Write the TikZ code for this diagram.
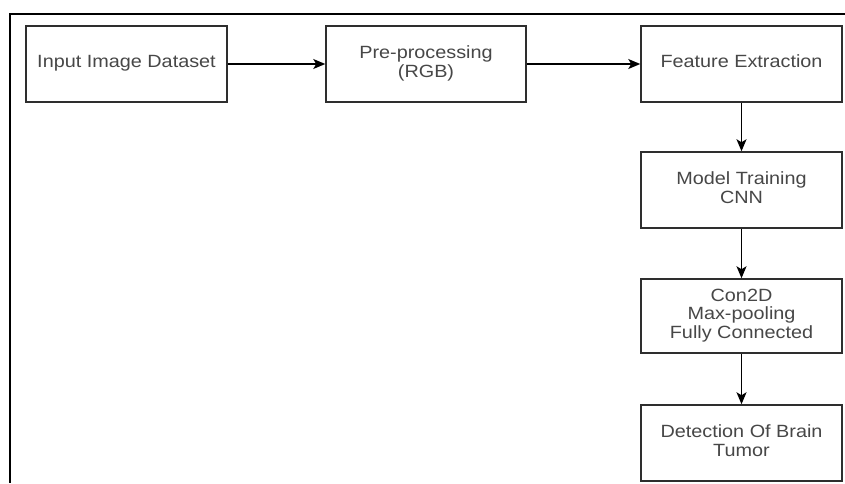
\documentclass[tikz,border=0pt]{standalone}
\usepackage{fontspec}
\usepackage{graphicx}
\setmainfont{Liberation Sans}
\usetikzlibrary{arrows.meta}
\definecolor{txtgrey}{HTML}{474747}
\definecolor{boxline}{HTML}{2E2E2E}
\newcommand{\wtxt}[1]{\scalebox{1.12}[1]{\fontsize{17.7}{18.6}\selectfont\begin{tabular}{@{}c@{}}#1\end{tabular}}}
\begin{document}
\begin{tikzpicture}[x=1pt,y=-1pt,
  stepbox/.style={draw=boxline, line width=1.5pt, rectangle, minimum width=201pt,
    minimum height=76pt, inner sep=0pt, text=txtgrey, fill=white},
  flow/.style={draw=black, line width=1.3pt, -{Stealth[length=12pt,width=10pt,inset=3pt]}}]
\useasboundingbox (0,0) rectangle (845,483);
\fill[white] (0,0) rectangle (845,483);
% outer frame (top and left edges)
\draw[line width=2pt, black] (845,14) -- (10,14) -- (10,483);
\node[stepbox] (inp) at (126.5,64) {\wtxt{Input Image Dataset}};
\node[stepbox, minimum width=200pt] (pre) at (426,64) {\wtxt{Pre-processing\\(RGB)}};
\node[stepbox] (fe) at (741.5,64) {\wtxt{Feature Extraction}};
\node[stepbox] (mt) at (741.5,190) {\wtxt{Model Training\\CNN}};
\node[stepbox, minimum height=74pt] (cnn) at (741.5,316) {\wtxt{Con2D\\Max-pooling\\Fully Connected}};
\node[stepbox] (det) at (741.5,443) {\wtxt{Detection Of Brain\\Tumor}};
\draw[flow] (inp) -- (pre);
\draw[flow] (pre) -- (fe);
\draw[flow] (fe) -- (mt);
\draw[flow] (mt) -- (cnn);
\draw[flow] (cnn) -- (det);
\end{tikzpicture}
\end{document}
